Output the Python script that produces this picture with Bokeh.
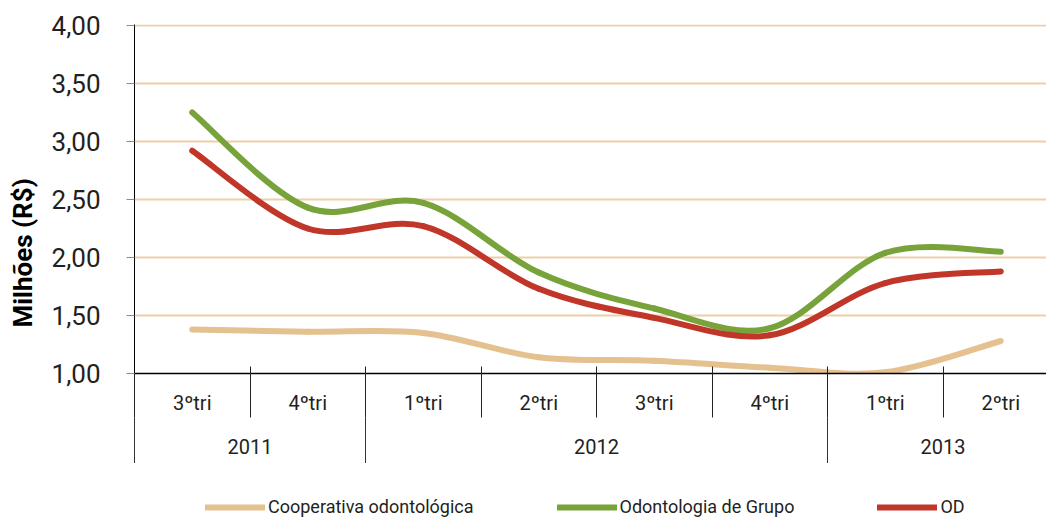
import math
from bokeh.plotting import figure
from bokeh.layouts import row, column
from bokeh.models import (Range1d, LinearAxis, FixedTicker, CustomJSTickFormatter,
                          Legend, LegendItem, ColumnDataSource, Grid)
from bokeh.core.properties import value
from bokeh.embed import file_html
from bokeh.resources import INLINE

# ---------------- data ----------------
quarters = ["3ºtri", "4ºtri", "1ºtri", "2ºtri", "3ºtri", "4ºtri", "1ºtri", "2ºtri"]
years = ["2011", "2012", "2013"]
year_spans = [2, 4, 2]
cooperativa = [1.38, 1.36, 1.35, 1.14, 1.11, 1.05, 1.01, 1.28]
grupo = [3.25, 2.43, 2.47, 1.87, 1.56, 1.39, 2.04, 2.05]
od = [2.92, 2.25, 2.27, 1.73, 1.48, 1.33, 1.78, 1.88]
series_names = ["Cooperativa odontológica", "Odontologia de Grupo", "OD"]
y_ticks = [1.0, 1.5, 2.0, 2.5, 3.0, 3.5, 4.0]
y_labels = ["1,00", "1,50", "2,00", "2,50", "3,00", "3,50", "4,00"]
y_title = "Milhões (R$)"

# ---------------- style ----------------
FONT = "Roboto"
TXT = "#231f20"
COLORS = ["#e4c18f", "#78a33b", "#c0372a"]
GRID = "#ecd0a8"

n = len(quarters)
x_centers = [i + 0.5 for i in range(n)]

LOOKUP = "const i = tv.findIndex((t) => Math.abs(t - tick) < 1e-6); return i < 0 ? '' : labs[i];"


def bezier_source(vals):
    # smoothed line (Excel-like) through the data points, via bezier segments
    m = len(vals)
    d = dict(x0=[], y0=[], x1=[], y1=[], cx0=[], cy0=[], cx1=[], cy1=[])
    for i in range(m - 1):
        a = max(i - 1, 0)
        b = min(i + 2, m - 1)
        d["x0"].append(x_centers[i]); d["y0"].append(vals[i])
        d["x1"].append(x_centers[i + 1]); d["y1"].append(vals[i + 1])
        d["cx0"].append(x_centers[i] + (x_centers[i + 1] - x_centers[a]) / 6)
        d["cy0"].append(vals[i] + (vals[i + 1] - vals[a]) / 6)
        d["cx1"].append(x_centers[i + 1] - (x_centers[b] - x_centers[i]) / 6)
        d["cy1"].append(vals[i + 1] - (vals[b] - vals[i]) / 6)
    return ColumnDataSource(d)


def bare(fig):
    fig.outline_line_color = None
    fig.background_fill_color = "white"
    fig.border_fill_color = "white"
    return fig


MAIN_H = 463
p = bare(figure(width=1002, height=MAIN_H, output_backend="svg", toolbar_location=None,
                x_range=Range1d(0, 912 / 115.5), y_range=Range1d(1.0, 4.0 + 1 / 116),
                x_axis_type=None, y_axis_type=None,
                min_border_left=90, min_border_right=0, min_border_top=24, min_border_bottom=90))

# y axis
yaxis = LinearAxis(
    ticker=FixedTicker(ticks=y_ticks, minor_ticks=[]),
    formatter=CustomJSTickFormatter(args=dict(tv=y_ticks, labs=y_labels), code=LOOKUP),
)
yaxis.axis_line_color = "black"
yaxis.major_tick_out = 8
yaxis.major_tick_in = 0
yaxis.major_tick_line_color = "#8c8c8c"
yaxis.minor_tick_line_color = None
yaxis.major_label_standoff = 26
yaxis.major_label_text_font = FONT
yaxis.major_label_text_font_size = "26px"
yaxis.major_label_text_color = TXT
p.add_layout(yaxis, "left")
p.add_layout(Grid(dimension=1, ticker=yaxis.ticker, grid_line_color=GRID, grid_line_width=2))

# x axis, level 1 (quarter labels + quarter separators)
bounds = list(range(n + 1))
xa1 = LinearAxis(
    ticker=FixedTicker(ticks=x_centers, minor_ticks=bounds),
    formatter=CustomJSTickFormatter(args=dict(tv=x_centers, labs=quarters), code=LOOKUP),
)
xa1.axis_line_color = "black"
xa1.axis_line_width = 1.5
xa1.major_tick_out = 0
xa1.major_tick_in = 0
xa1.minor_tick_out = 44
xa1.minor_tick_in = 7
xa1.minor_tick_line_color = "#222222"
xa1.major_label_standoff = -27
xa1.major_label_text_font = FONT
xa1.major_label_text_font_size = "20px"
xa1.major_label_text_color = TXT
p.add_layout(xa1, "below")

# x axis, level 2 (year labels + year separators)
y_bounds = [0]
for s in year_spans:
    y_bounds.append(y_bounds[-1] + s)
y_centers = [(y_bounds[i] + y_bounds[i + 1]) / 2 for i in range(len(years))]
xa2 = LinearAxis(
    ticker=FixedTicker(ticks=y_centers, minor_ticks=y_bounds),
    formatter=CustomJSTickFormatter(args=dict(tv=y_centers, labs=years), code=LOOKUP),
)
xa2.axis_line_color = None
xa2.major_tick_out = 0
xa2.major_tick_in = 0
xa2.minor_tick_out = 48
xa2.minor_tick_in = 0
xa2.minor_tick_line_color = "#333333"
xa2.major_label_standoff = -27
xa2.major_label_text_font = FONT
xa2.major_label_text_font_size = "20px"
xa2.major_label_text_color = TXT
p.add_layout(xa2, "below")

# series
sources = [bezier_source(v) for v in [cooperativa, grupo, od]]
BZ = dict(x0="x0", y0="y0", x1="x1", y1="y1", cx0="cx0", cy0="cy0", cx1="cx1", cy1="cy1")
for src, col in zip(sources, COLORS):
    p.bezier(source=src, line_color=col, line_width=6, line_cap="round", **BZ)

# y title strip (left)
lt = bare(figure(width=44, height=MAIN_H, output_backend="svg", toolbar_location=None,
                 x_range=Range1d(0, 44), y_range=Range1d(0, MAIN_H),
                 x_axis_type=None, y_axis_type=None, min_border=0))
lt.text(x=[22], y=[160], text=[y_title], angle=math.pi / 2,
        text_align="center", text_baseline="middle", text_font=value(FONT),
        text_font_style="bold", text_font_size="26px", text_color="black")

# legend strip (bottom)
LEG_H = 517 - MAIN_H
lg = bare(figure(width=1046, height=LEG_H, output_backend="svg", toolbar_location=None,
                 x_range=Range1d(100, 101), y_range=Range1d(100, 101),
                 x_axis_type=None, y_axis_type=None, min_border=0))
leg_renderers = [lg.bezier(source=src, line_color=col, line_width=6, line_cap="round", **BZ)
                 for src, col in zip(sources, COLORS)]
legend = Legend(items=[LegendItem(label=nm, renderers=[r]) for nm, r in zip(series_names, leg_renderers)],
                orientation="horizontal", location=(205, 0), spacing=83,
                glyph_width=60, glyph_height=20, label_standoff=3, padding=0, margin=0,
                border_line_color=None, background_fill_alpha=0,
                label_text_font=FONT, label_text_font_size="18px", label_text_color=TXT)
lg.add_layout(legend, "center")

layout = column(row(lt, p), lg)
open("out.html", "w").write(file_html(layout, INLINE))
